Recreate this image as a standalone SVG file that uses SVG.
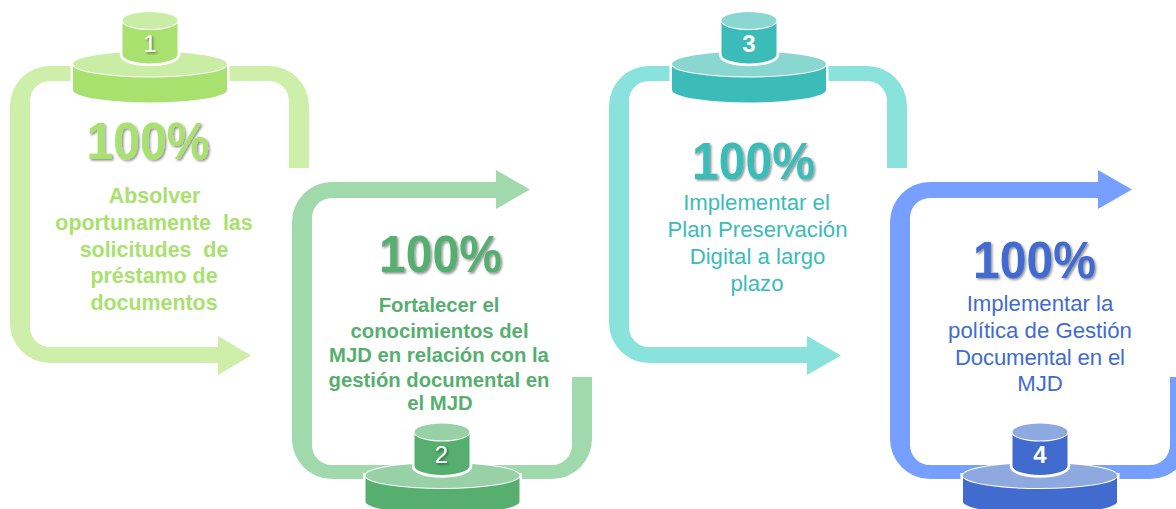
<svg xmlns="http://www.w3.org/2000/svg" width="1176" height="509" viewBox="0 0 1176 509">
<defs>
<filter id="sh" x="-10%" y="-10%" width="125%" height="130%"><feDropShadow dx="1.500" dy="1.500" stdDeviation="1" flood-color="#000" flood-opacity="0.45"/></filter>
<g id="big"><path d="M-77 0V26A77 12.500 0 0 0 77 26V0Z" class="s" stroke="#fff" stroke-width="5" paint-order="stroke"/><ellipse cx="0" cy="0" rx="77" ry="12.500" class="t" stroke="#fff" stroke-width="2" paint-order="stroke"/></g>
<g id="small"><path d="M-27.500 0V34A27.500 9 0 0 0 27.500 34V0Z" class="s" stroke="#fff" stroke-width="5.500" paint-order="stroke"/><ellipse cx="0" cy="0" rx="27.500" ry="8.500" class="t" stroke="#fff" stroke-width="2" paint-order="stroke"/></g>
</defs>
<style>
text{font-family:"Liberation Sans",Arial,sans-serif;text-anchor:middle}
.pct{font-size:51px;font-weight:700;filter:url(#sh)}
.lab1{font-size:21.400px;font-weight:700}
.lab2{font-size:20.300px;font-weight:700}
.lab3{font-size:22.200px}
.num{font-size:24px;fill:#fff}
.sd{filter:url(#sh)}
.b{font-weight:700}
.g1{fill:#A9E16F;--t:#C9EDA5}
.g2{fill:#56AF6F;--t:#99D1A7}
.g3{fill:#3BBCB8;--t:#8AD6D1}
.g4{fill:#426BCF;--t:#8EA8E0}
.t{fill:var(--t)}
</style>
<g id="connectors">
<path fill="#CDEFA9" d="M289 168H309V106A40 40 0 0 0 269 66H50A40 40 0 0 0 10 106V323A40 40 0 0 0 50 363H218V375L251 355.500L218 336V347H50A20 20 0 0 1 30 327V101A20 20 0 0 1 50 81H269A20 20 0 0 1 289 101Z"/>
<path fill="#9FD9AC" d="M312 218A20 20 0 0 1 332 198H496V209L530 189.500L496 170V182H332A40 40 0 0 0 292 222V439A40 40 0 0 0 332 479H552A40 40 0 0 0 592 439V377H572V445A20 20 0 0 1 552 465H332A20 20 0 0 1 312 445Z"/>
<path fill="#8AE2DD" d="M887 168H907V106A40 40 0 0 0 867 66H649A40 40 0 0 0 609 106V323A40 40 0 0 0 649 363H807V375L841 355.500L807 336V347H649A20 20 0 0 1 629 327V101A20 20 0 0 1 649 81H867A20 20 0 0 1 887 101Z"/>
<path fill="#769FFF" d="M910 218A20 20 0 0 1 930 198H1098V209L1132 189.500L1098 170V182H930A40 40 0 0 0 890 222V439A40 40 0 0 0 930 479H1150A40 40 0 0 0 1190 439V377H1170V445A20 20 0 0 1 1150 465H930A20 20 0 0 1 910 445Z"/>
</g>
<g id="node1" class="g1">
<use href="#big" x="150" y="64"/><use href="#small" x="150" y="20.500"/>
<text class="num sd" x="150" y="52">1</text>
<text class="pct" x="148" y="159" textLength="123" lengthAdjust="spacingAndGlyphs">100%</text>
<g class="lab1"><text x="154.500" y="202.500">Absolver</text><text x="154" y="229.500" xml:space="preserve">oportunamente  las</text><text x="154" y="256.500" xml:space="preserve">solicitudes  de</text><text x="154" y="283">préstamo de</text><text x="154" y="309.500">documentos</text></g>
</g>
<g id="node2" class="g2">
<use href="#big" x="442.500" y="475.500"/><use href="#small" x="442" y="432"/>
<text class="num sd" x="441.500" y="463">2</text>
<text class="pct" x="440.500" y="272" textLength="123" lengthAdjust="spacingAndGlyphs">100%</text>
<g class="lab2"><text x="439" y="312">Fortalecer el</text><text x="439.500" y="337.500">conocimientos del</text><text x="439" y="361.500">MJD en relación con la</text><text x="439" y="387">gestión documental en</text><text x="440" y="409.500">el MJD</text></g>
</g>
<g id="node3" class="g3">
<use href="#big" x="749" y="64"/><use href="#small" x="749" y="20.500"/>
<text class="num b" x="749" y="51.500">3</text>
<text class="pct" x="753.500" y="179" textLength="123" lengthAdjust="spacingAndGlyphs">100%</text>
<g class="lab3"><text x="756.500" y="210">Implementar el</text><text x="757.500" y="237">Plan Preservación</text><text x="757.500" y="264">Digital a largo</text><text x="757" y="291">plazo</text></g>
</g>
<g id="node4" class="g4">
<use href="#big" x="1040" y="475.500"/><use href="#small" x="1040" y="432"/>
<text class="num b" x="1040" y="463">4</text>
<text class="pct" x="1034.500" y="278" textLength="123" lengthAdjust="spacingAndGlyphs">100%</text>
<g class="lab3"><text x="1040" y="310.500">Implementar la</text><text x="1040" y="337.500">política de Gestión</text><text x="1040" y="364.500" textLength="170" lengthAdjust="spacing">Documental en el</text><text x="1040" y="391">MJD</text></g>
</g>
</svg>
